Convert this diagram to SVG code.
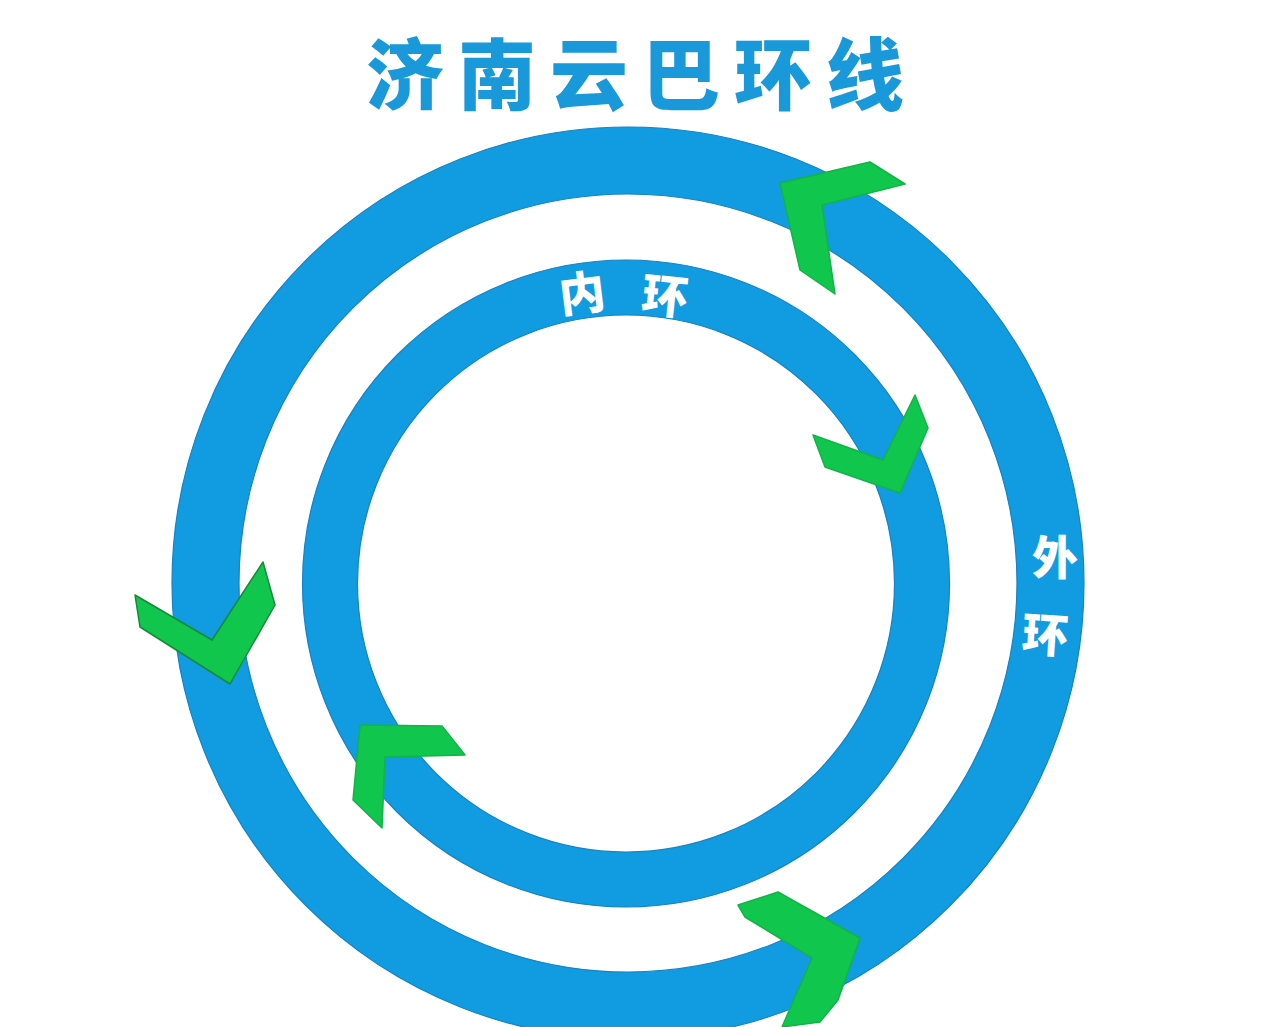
<svg xmlns="http://www.w3.org/2000/svg" width="1280" height="1027" viewBox="0 0 1280 1027">
<style>
.ring{fill:none;stroke:#119ce1}
.edge{fill:none;stroke:#1683c2;stroke-width:1.2}
.chev{fill:#10c64c;stroke:#12b447;stroke-width:1.5;stroke-linejoin:round}
.title{font-family:"Noto Sans CJK SC","Noto Sans",sans-serif;font-weight:900;font-size:78px;fill:#1a99da}
.lbl{font-family:"Noto Sans CJK SC","Noto Sans",sans-serif;font-weight:900;font-size:46px;fill:#ffffff;text-anchor:middle}
</style>
<rect width="1280" height="1027" fill="#ffffff"/>
<g id="title">
<text class="title" x="642" y="104" text-anchor="middle" letter-spacing="14">济南云巴环线</text>
</g>
<g id="outer-ring">
<circle class="ring" cx="628" cy="583" r="422.5" stroke-width="67"/>
<circle class="edge" cx="628" cy="583" r="456"/>
<circle class="edge" cx="628" cy="583" r="389"/>
<text class="lbl" x="1055" y="574">外</text>
<text class="lbl" x="1045" y="652" transform="rotate(4 1045 636)">环</text>
</g>
<g id="inner-ring">
<circle class="ring" cx="626" cy="583.5" r="296" stroke-width="55"/>
<circle class="edge" cx="626" cy="583.5" r="323.5"/>
<circle class="edge" cx="626" cy="583.5" r="268.5"/>
<text class="lbl" x="582" y="310" transform="rotate(-7 582 293)">内</text>
<text class="lbl" x="665" y="313" transform="rotate(6 665 296)">环</text>
</g>
<g id="connectors">
<polygon class="chev" points="780,183 870,162 905,184 822,205 835,294 800,270"/>
<polygon class="chev" points="813,435 883,460 915,395 928,428 900,493 825,467"/>
<polygon class="chev" points="135,595 212,640 263,562 275,605 230,684 140,627" style="stroke:#178a38"/>
<polygon class="chev" points="360,725 442,726 465,755 385,757 382,828 353,800"/>
<polygon class="chev" points="738,905 778,892 860,938 838,1000 820,1022 782,1027 812,958 745,917"/>
</g>
</svg>
